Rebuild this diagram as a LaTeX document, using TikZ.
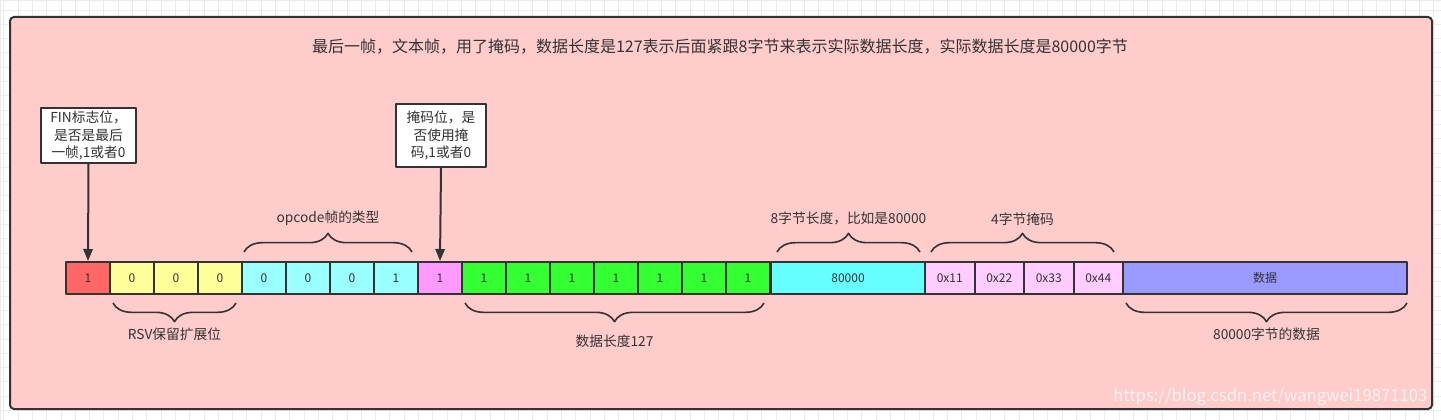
\documentclass[tikz,border=0pt]{standalone}
\usepackage{fontspec}
\setmainfont{Noto Sans CJK SC}
\usetikzlibrary{arrows.meta,decorations.pathreplacing,calc}
\definecolor{line}{HTML}{333333}
\definecolor{bg}{HTML}{FFCCCC}
\definecolor{cfin}{HTML}{FF6666}
\definecolor{crsv}{HTML}{FFFF99}
\definecolor{cop}{HTML}{99FFFF}
\definecolor{cmask}{HTML}{FF99FF}
\definecolor{clen}{HTML}{33FF33}
\definecolor{cext}{HTML}{66FFFF}
\definecolor{ckey}{HTML}{FFCCFF}
\definecolor{cdata}{HTML}{9999FF}
\tikzset{
  cell/.style={draw=line, line width=1.5pt, minimum height=24pt, inner sep=0pt, text=line, font=\fontsize{9}{10}\selectfont},
  callout/.style={draw=line, line width=1.5pt, fill=white, align=center, inner sep=1pt, text=line, font=\fontsize{10.3}{13}\selectfont},
  lbl/.style={text=line, font=\fontsize{10.3}{12}\selectfont},
  brc/.style={decorate, decoration={brace, amplitude=14pt}, draw=line, line width=1.2pt},
}
\begin{document}
\begin{tikzpicture}[x=0.75pt, y=-0.75pt, >={Triangle[length=9pt,width=7pt]}, line join=round]
			\useasboundingbox (0,0) rectangle (1441,420);
			% canvas grid
			\draw[black!8, line width=0.6pt] (0,0) rectangle (1441,420);
			\foreach \g in {0,...,100} {\draw[black!8, line width=0.6pt] (3.7+14.3*\g,0)--(3.7+14.3*\g,420);}
			\foreach \g in {0,...,29} {\draw[black!8, line width=0.6pt] (0,-4.3+14.3*\g)--(1441,-4.3+14.3*\g);}
			% frame
			\draw[line, line width=1.5pt, fill=bg, rounded corners=3pt] (10,17) rectangle (1432,409);
			\node[text=line, font=\fontsize{12}{14}\selectfont] (title) at (720,47) {最后一帧，文本帧，用了掩码，数据长度是127表示后面紧跟8字节来表示实际数据长度，实际数据长度是80000字节};
			% bits
			\node[cell, fill=cfin, minimum width=33pt] (fin) at (88,278) {1};
			\foreach \i in {1,2,3}
			{\node[cell, fill=crsv, minimum width=33pt] (rsv\i) at (88+44*\i,278) {0};}
			\foreach \i/\v in {1/0,2/0,3/0,4/1}
			{\node[cell, fill=cop, minimum width=33pt] (op\i) at (220+44*\i,278) {\v};}
			\node[cell, fill=cmask, minimum width=33pt] (mask) at (440,278) {1};
			\foreach \i in {1,...,7}
			{\node[cell, fill=clen, minimum width=33pt] (len\i) at (440+44*\i,278) {1};}
			\node[cell, fill=cext, minimum width=115.5pt] (ext) at (848,278) {80000};
			\foreach \i/\v in {1/11,2/22,3/33,4/44}
			{\node[cell, fill=ckey, minimum width=37.125pt] (key\i) at (900.25+49.5*\i,278) {0x\v};}
			\node[cell, fill=cdata, minimum width=213pt] (data) at (1265,278) {数据};
			% callouts
			\node[callout, minimum width=71.25pt, minimum height=41.25pt] (finnote) at (88.5,135.5) {FIN标志位，\\是否是最后\\一帧,1或者0};
			\node[callout, minimum width=67.5pt, minimum height=47.25pt] (masknote) at (441,135.5) {掩码位，是\\否使用掩\\码,1或者0};
			\draw[->, line, line width=1.5pt] (finnote.south) -- (fin.north);
			\draw[->, line, line width=1.5pt] (masknote.south) -- (mask.north);
			% braces
			\draw[brc] ($(op1.north west)+(3,-9)$) -- ($(op4.north east)+(-7,-9)$) node[midway, above=16pt, lbl] (oplbl) {opcode帧的类型};
			\draw[brc] ($(ext.north west)+(7,-9)$) -- ($(ext.north east)+(-6,-9)$) node[midway, above=16pt, lbl] (extlbl) {8字节长度，比如是80000};
			\draw[brc] ($(key1.north west)+(7,-9)$) -- ($(key4.north east)+(-10,-9)$) node[midway, above=16pt, lbl] (keylbl) {4字节掩码};
			\draw[brc] ($(rsv3.south east)+(-7,8)$) -- ($(rsv1.south west)+(4,8)$) node[midway, below=15pt, lbl] (rsvlbl) {RSV保留扩展位};
			\draw[brc] ($(len7.south east)+(-7,8)$) -- ($(len1.south west)+(4,8)$) node[midway, below=20pt, lbl] (lenlbl) {数据长度127};
			\draw[brc] ($(data.south east)+(-1,8)$) -- ($(data.south west)+(4,8)$) node[midway, below=15pt, lbl] (datalbl) {80000字节的数据};
			\node[white, opacity=0.75, font=\fontsize{12.5}{14}\selectfont, anchor=south east] (mark) at (1432,410) {https://blog.csdn.net/wangwei19871103};
		\end{tikzpicture}
\end{document}
